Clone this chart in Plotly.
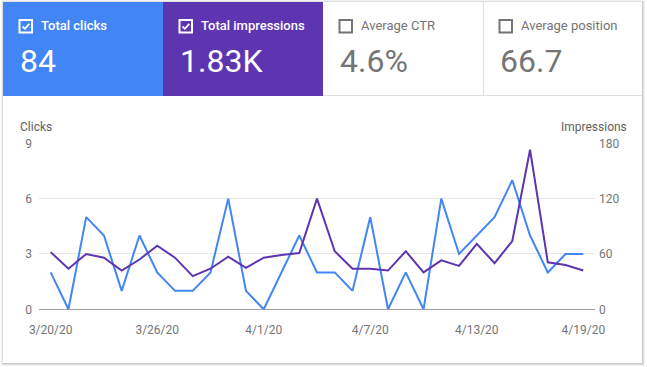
import plotly.graph_objects as go

# ---------------- data ----------------
dates = ["2020-03-20", "2020-03-21", "2020-03-22", "2020-03-23", "2020-03-24", "2020-03-25",
         "2020-03-26", "2020-03-27", "2020-03-28", "2020-03-29", "2020-03-30", "2020-03-31",
         "2020-04-01", "2020-04-02", "2020-04-03", "2020-04-04", "2020-04-05", "2020-04-06",
         "2020-04-07", "2020-04-08", "2020-04-09", "2020-04-10", "2020-04-11", "2020-04-12",
         "2020-04-13", "2020-04-14", "2020-04-15", "2020-04-16", "2020-04-17", "2020-04-18",
         "2020-04-19"]
clicks = [2, 0, 5, 4, 1, 4, 2, 1, 1, 2, 6, 1, 0, 2, 4, 2, 2, 1, 5, 0, 2, 0, 6, 3, 4, 5, 7, 4, 2, 3, 3]
impressions = [62, 44, 60, 56, 42, 54, 69, 56, 36, 44, 57, 45, 56, 59, 61, 120, 63, 44, 44, 42,
               63, 40, 53, 47, 71, 50, 74, 173, 51, 48, 42]
tick_dates = ["2020-03-20", "2020-03-26", "2020-04-01", "2020-04-07", "2020-04-13", "2020-04-19"]
tick_labels = ["3/20/20", "3/26/20", "4/1/20", "4/7/20", "4/13/20", "4/19/20"]
clicks_ticks = [0, 3, 6, 9]
impr_ticks = [0, 60, 120, 180]
tile_labels = ["Total clicks", "Total impressions", "Average CTR", "Average position"]
tile_values = ["84", "1.83K", "4.6%", "66.7"]
tile_checked = [True, True, False, False]

# ---------------- style ----------------
W, H = 647, 367
BLUE = "#4285f4"
PURPLE = "#5e35b1"
GRAY_TXT = "#757575"
FONT = "Roboto"

def px(x):
    return x / W

def py(y):
    return 1 - y / H

fig = go.Figure()
fig.add_trace(go.Scatter(x=dates, y=clicks, mode="lines", line=dict(color=BLUE, width=2),
                         yaxis="y", name="Clicks", hoverinfo="skip"))
fig.add_trace(go.Scatter(x=dates, y=impressions, mode="lines", line=dict(color=PURPLE, width=2),
                         yaxis="y2", name="Impressions", hoverinfo="skip"))

shapes = []
# card shadow
for i, op in enumerate([0.05, 0.07, 0.10]):
    d = 3 - i
    shapes.append(dict(type="rect", xref="paper", yref="paper", layer="below",
                       x0=px(3 - d + 1), x1=px(642 + d), y0=py(2 - d + 1), y1=py(363 + d),
                       line=dict(width=0), fillcolor=f"rgba(0,0,0,{op})"))
shapes.append(dict(type="rect", xref="paper", yref="paper", layer="below",
                   x0=px(3), x1=px(642), y0=py(2), y1=py(363),
                   line=dict(width=0), fillcolor="white"))

tile_edges = [3, 163, 323, 483, 642]
tile_fill = [BLUE, PURPLE, None, None]
for i in range(4):
    if tile_fill[i]:
        shapes.append(dict(type="rect", xref="paper", yref="paper", layer="below",
                           x0=px(tile_edges[i]), x1=px(tile_edges[i + 1]), y0=py(2), y1=py(96),
                           line=dict(width=0), fillcolor=tile_fill[i]))
# tile borders
shapes.append(dict(type="line", xref="paper", yref="paper", layer="below",
                   x0=px(323), x1=px(642), y0=py(95.5), y1=py(95.5),
                   line=dict(color="#e0e0e0", width=1)))
shapes.append(dict(type="line", xref="paper", yref="paper", layer="below",
                   x0=px(483.5), x1=px(483.5), y0=py(2), y1=py(96),
                   line=dict(color="#e0e0e0", width=1)))

annotations = []
for i in range(4):
    left = tile_edges[i]
    col = "white" if tile_checked[i] else GRAY_TXT
    # checkbox
    bx0, by0 = left + 16.5, 20
    shapes.append(dict(type="rect", xref="paper", yref="paper", layer="above",
                       x0=px(bx0), x1=px(bx0 + 12.5), y0=py(by0), y1=py(by0 + 12.5),
                       line=dict(color=col, width=2), fillcolor="rgba(0,0,0,0)"))
    if tile_checked[i]:
        path = (f"M {px(bx0 + 3)},{py(by0 + 6.5)} L {px(bx0 + 5.3)},{py(by0 + 8.8)} "
                f"L {px(bx0 + 9.8)},{py(by0 + 3.8)}")
        shapes.append(dict(type="path", xref="paper", yref="paper", layer="above", path=path,
                           line=dict(color=col, width=1.8)))
    annotations.append(dict(xref="paper", yref="paper", x=px(left + 35.5), y=py(25),
                            xanchor="left", yanchor="middle", showarrow=False,
                            text=tile_labels[i],
                            font=dict(family=FONT, size=13, color=col,
                                      weight=500 if tile_checked[i] else 400)))
    annotations.append(dict(xref="paper", yref="paper", x=px(left + 15), y=py(61),
                            xanchor="left", yanchor="middle", showarrow=False,
                            text=tile_values[i],
                            font=dict(family=FONT, size=32, color=col)))

annotations.append(dict(xref="paper", yref="paper", x=px(18), y=py(126.6),
                        xanchor="left", yanchor="middle", showarrow=False, text="Clicks",
                        font=dict(family=FONT, size=12, color="#616161")))
annotations.append(dict(xref="paper", yref="paper", x=px(628.5), y=py(126.6),
                        xanchor="right", yanchor="middle", showarrow=False, text="Impressions",
                        font=dict(family=FONT, size=12, color="#616161")))

PL, PR, PT, PB = 39, 595, 143.3, 309.3
fig.update_layout(
    width=W, height=H,
    margin=dict(l=0, r=0, t=0, b=0),
    paper_bgcolor="white",
    plot_bgcolor="rgba(0,0,0,0)",
    showlegend=False,
    font=dict(family=FONT, size=12, color=GRAY_TXT),
    xaxis=dict(domain=[px(PL), px(PR)], type="date",
               range=["2020-03-19 08:12", "2020-04-19 15:48"],
               tickvals=tick_dates, ticktext=tick_labels, showgrid=False, zeroline=False,
               showline=False, ticks="", automargin=False, ticklabelstandoff=12,
               tickfont=dict(family=FONT, size=12, color=GRAY_TXT)),
    yaxis=dict(domain=[py(PB), py(PT)], range=[0, 9], tickvals=clicks_ticks,
               showgrid=True, gridcolor="#e6e6e6", gridwidth=1,
               zeroline=True, zerolinecolor="#9e9e9e", zerolinewidth=1,
               showline=False, ticks="", automargin=False, ticklabelstandoff=6,
               tickfont=dict(family=FONT, size=12, color=GRAY_TXT)),
    yaxis2=dict(domain=[py(PB), py(PT)], range=[0, 180], tickvals=impr_ticks,
                overlaying="y", side="right", showgrid=False, zeroline=False,
                showline=False, ticks="", automargin=False, ticklabelstandoff=3,
                tickfont=dict(family=FONT, size=12, color=GRAY_TXT)),
    shapes=shapes,
    annotations=annotations,
)

fig.write_html("out.html", config={"displayModeBar": False},
               post_script="document.body.style.margin='0';")
